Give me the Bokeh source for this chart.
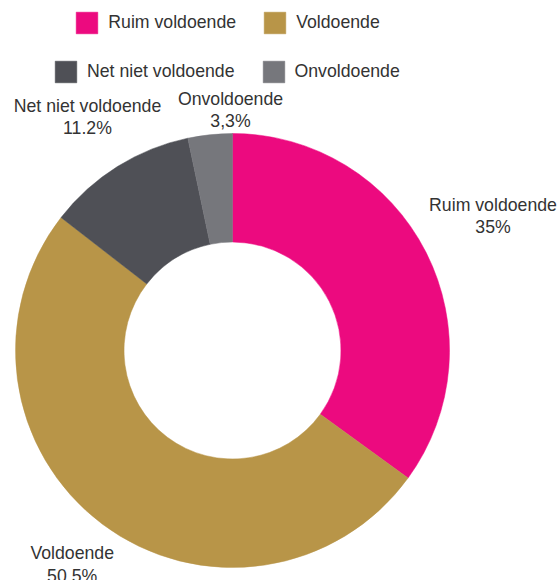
import math
from bokeh.plotting import figure
from bokeh.models import Range1d, Legend, LegendItem, ColumnDataSource
from bokeh.core.properties import value
from bokeh.embed import file_html
from bokeh.resources import INLINE

# ---- data ----
categories = ["Ruim voldoende", "Voldoende", "Net niet voldoende", "Onvoldoende"]
percentages = [35.0, 50.5, 11.2, 3.3]
pct_labels = ["35%", "50.5%", "11.2%", "3,3%"]
colors = ["#EC0A7F", "#B89548", "#4F5056", "#76777C"]

# ---- layout (screen-like coordinates: x right, y = -pixel row) ----
CX, CY = 232, -350
R_OUT, R_IN = 217, 108.5
label_base = [(492.5, -204), (71.7, -552.5), (87, -105), (230, -98)]
LINE_GAP = 22.5
FONT = "Liberation Sans"
FS = "17.7px"
TXT = "#333333"
W, H = 558, 580

p = figure(width=W, height=H, output_backend="svg", toolbar_location=None,
           x_range=Range1d(0, W), y_range=Range1d(-H, 0),
           min_border=0)
p.axis.visible = False
p.grid.visible = False
p.outline_line_color = None
p.background_fill_color = "white"
p.border_fill_color = "white"

total = sum(percentages)
renderers = []
cum = 0.0
for cat, v, c in zip(categories, percentages, colors):
    start = math.pi / 2 - 2 * math.pi * (cum + v) / total
    end = math.pi / 2 - 2 * math.pi * cum / total
    cum += v
    src = ColumnDataSource(dict(x=[CX], y=[CY], s=[start], e=[end]))
    r = p.annular_wedge(x="x", y="y", inner_radius=R_IN, outer_radius=R_OUT,
                        start_angle="s", end_angle="e", source=src,
                        fill_color=c, line_color=c, line_width=0.5)
    renderers.append(r)

# slice labels (two lines each)
lx = [pos[0] for pos in label_base]
ly1 = [pos[1] for pos in label_base]
ly2 = [pos[1] - LINE_GAP for pos in label_base]
p.text(x=lx, y=ly1, text=categories, text_align="center", text_baseline="alphabetic",
       text_font=value(FONT), text_font_size=FS, text_color=TXT)
p.text(x=lx, y=ly2, text=pct_labels, text_align="center", text_baseline="alphabetic",
       text_font=value(FONT), text_font_size=FS, text_color=TXT)

# legends (two centred rows)
def make_legend(idx, loc):
    return Legend(items=[LegendItem(label=categories[i], renderers=[renderers[i]]) for i in idx],
                  orientation="horizontal", location=loc,
                  glyph_width=27, glyph_height=27, label_height=27,
                  label_standoff=8, spacing=25, padding=0, margin=0,
                  border_line_color=None, background_fill_alpha=0,
                  label_text_font=FONT, label_text_font_size=FS,
                  label_text_color=TXT, label_text_baseline="middle")

p.add_layout(make_legend([0, 1], (73.3, 544)), "center")
p.add_layout(make_legend([2, 3], (52, 495.3)), "center")

open("out.html", "w").write(file_html(p, INLINE))
